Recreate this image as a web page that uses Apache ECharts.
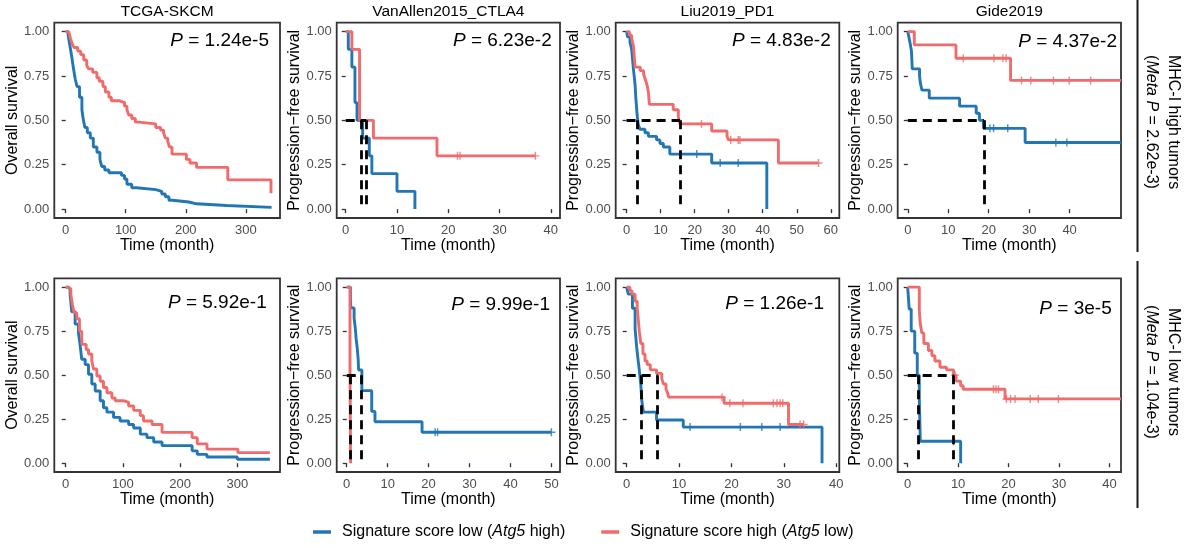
<!DOCTYPE html>
<html><head><meta charset="utf-8">
<script src="https://cdn.jsdelivr.net/npm/echarts@6/dist/echarts.min.js"></script>
<style>html,body{margin:0;padding:0;background:#fff}#c{width:1193px;height:548px}</style>
</head><body><div id="c"></div>
<script>
// ---------------- DATA ----------------
const panelTitles = ['TCGA-SKCM', 'VanAllen2015_CTLA4', 'Liu2019_PD1', 'Gide2019'];
const pValues = ['1.24e-5', '6.23e-2', '4.83e-2', '4.37e-2', '5.92e-1', '9.99e-1', '1.26e-1', '3e-5'];
const yNames = ['Overall survival', 'Progression\u2212free survival', 'Progression\u2212free survival', 'Progression\u2212free survival'];
const stripNames = ['MHC-I high tumors', 'MHC-I low tumors'];
const metaP = ['2.62e-3', '1.04e-3'];
const yTickValues = [0, 0.25, 0.5, 0.75, 1];
const yTickLabels = ['0.00', '0.25', '0.50', '0.75', '1.00'];
const xTicks_1 = [0, 100, 200, 300];
const xTicks_2 = [0, 10, 20, 30, 40];
const xTicks_3 = [0, 10, 20, 30, 40, 50, 60];
const xTicks_4 = [0, 10, 20, 30, 40];
const xTicks_5 = [0, 100, 200, 300];
const xTicks_6 = [0, 10, 20, 30, 40, 50];
const xTicks_7 = [0, 10, 20, 30, 40];
const xTicks_8 = [0, 10, 20, 30, 40];

// Panel 1: TCGA-SKCM, MHC-I high
const lowT_1 = [0, 4, 7, 10, 13, 16, 19, 23, 27, 29, 32, 36, 41, 46, 52, 57, 60, 65, 72, 93, 98, 102, 110, 118, 150, 160, 166, 172, 178, 205, 218, 268, 343];
const lowS_1 = [1, 0.98, 0.92, 0.86, 0.79, 0.73, 0.69, 0.63, 0.56, 0.51, 0.46, 0.43, 0.40, 0.35, 0.32, 0.28, 0.24, 0.22, 0.205, 0.19, 0.17, 0.14, 0.12, 0.11, 0.10, 0.085, 0.07, 0.05, 0.04, 0.03, 0.02, 0.01, 0.01];
const highT_1 = [0, 5, 8, 11, 14, 20, 25, 30, 35, 38, 45, 52, 56, 62, 66, 72, 76, 90, 98, 102, 105, 110, 116, 122, 150, 158, 163, 166, 170, 173, 177, 201, 207, 218, 270, 342];
const highS_1 = [1, 0.99, 0.96, 0.93, 0.91, 0.89, 0.87, 0.84, 0.81, 0.79, 0.77, 0.74, 0.72, 0.69, 0.66, 0.63, 0.61, 0.60, 0.58, 0.56, 0.53, 0.51, 0.49, 0.48, 0.46, 0.445, 0.43, 0.40, 0.38, 0.35, 0.31, 0.28, 0.26, 0.235, 0.165, 0.09];
const lowCens_1 = [];
const highCens_1 = [];
const medians_1 = [];

// Panel 2: VanAllen2015_CTLA4, MHC-I high
const lowT_2 = [0, 0.5, 1.2, 1.8, 2.2, 3.3, 4.6, 5.1, 10, 13.5];
const lowS_2 = [1, 0.9, 0.8, 0.6, 0.5, 0.4, 0.3, 0.2, 0.1, 0];
const highT_2 = [0, 1.2, 2.7, 5.4, 17.8, 37];
const highS_2 = [1, 0.9, 0.5, 0.4, 0.3, 0.3];
const lowCens_2 = [];
const highCens_2 = [21.8, 22.3, 37];
const medians_2 = [3.0, 4.0];

// Panel 3: Liu2019_PD1, MHC-I high
const lowT_3 = [0, 0.3, 1, 1.5, 2, 2.5, 2.7, 3.1, 3.4, 3.9, 5.4, 6.4, 8.8, 9.8, 10.8, 12.7, 25, 41.2];
const lowS_3 = [1, 0.97, 0.94, 0.90, 0.79, 0.70, 0.63, 0.53, 0.48, 0.45, 0.43, 0.41, 0.39, 0.37, 0.35, 0.31, 0.26, 0];
const highT_3 = [0, 0.8, 1.5, 2, 2.5, 4, 5, 5.5, 6, 6.4, 6.7, 13.7, 15.2, 15.7, 25, 29.5, 30, 44.6, 56.4];
const highS_3 = [1, 0.98, 0.96, 0.92, 0.80, 0.78, 0.76, 0.73, 0.70, 0.66, 0.59, 0.56, 0.52, 0.48, 0.44, 0.41, 0.39, 0.26, 0.26];
const lowCens_3 = [20.6, 27.5, 32.8];
const highCens_3 = [22, 30.6, 32.8, 33.3, 56.4];
const medians_3 = [3.2, 15.7];

// Panel 4: Gide2019, MHC-I high
const lowT_4 = [0, 0.3, 0.6, 0.9, 1.1, 2.9, 3.1, 3.5, 5.3, 12.8, 16.9, 17.7, 18.7, 29, 52.7];
const lowS_4 = [1, 0.966, 0.93, 0.89, 0.79, 0.75, 0.71, 0.67, 0.625, 0.58, 0.54, 0.50, 0.455, 0.375, 0.375];
const highT_4 = [0, 1.6, 11.9, 25.4, 52.7];
const highS_4 = [1, 0.925, 0.85, 0.725, 0.725];
const lowCens_4 = [20.3, 21.2, 24.7, 36.6, 39.3];
const highCens_4 = [13.7, 21.3, 23.5, 24.3, 28.1, 30.4, 36, 39.9, 45.2];
const medians_4 = [18.8];

// Panel 5: TCGA-SKCM, MHC-I low
const lowT_5 = [0, 4, 7.6, 10.5, 16.4, 22.2, 25, 28, 34, 39.8, 45.6, 51.5, 60.2, 66, 72, 83.6, 95, 110, 118.7, 130.4, 142, 153.8, 168.4, 221, 230, 247, 300, 357];
const lowS_5 = [1, 0.99, 0.96, 0.86, 0.79, 0.74, 0.675, 0.59, 0.56, 0.505, 0.45, 0.41, 0.355, 0.315, 0.29, 0.26, 0.24, 0.22, 0.20, 0.165, 0.145, 0.12, 0.10, 0.07, 0.05, 0.035, 0.022, 0.022];
const highT_5 = [0, 4.7, 8.8, 11.7, 14.6, 19.3, 24, 28, 35.7, 39.8, 45.6, 48.5, 54.4, 60.2, 66, 72, 80.7, 86.5, 101, 110, 118.7, 130.4, 136, 151, 168.4, 221, 230, 247, 301, 357];
const highS_5 = [1, 0.99, 0.96, 0.90, 0.855, 0.82, 0.75, 0.675, 0.645, 0.62, 0.58, 0.535, 0.495, 0.465, 0.43, 0.40, 0.37, 0.355, 0.345, 0.325, 0.30, 0.27, 0.24, 0.22, 0.175, 0.145, 0.11, 0.08, 0.06, 0.06];
const lowCens_5 = [];
const highCens_5 = [];
const medians_5 = [];

// Panel 6: VanAllen2015_CTLA4, MHC-I low
const lowT_6 = [0, 0.9, 1.0, 1.8, 2.1, 2.3, 2.6, 2.8, 2.9, 3.7, 6.1, 6.9, 18.4, 50];
const lowS_6 = [1, 0.941, 0.882, 0.824, 0.765, 0.706, 0.647, 0.588, 0.529, 0.412, 0.294, 0.235, 0.176, 0.176];
const highT_6 = [0, 0.8, 0.95];
const highS_6 = [1, 0.5, 0];
const lowCens_6 = [21.6, 22.2, 50];
const highCens_6 = [];
const medians_6 = [0.8, 3.5];

// Panel 7: Liu2019_PD1, MHC-I low
const lowT_7 = [0, 0.3, 1.1, 1.6, 1.9, 2.2, 2.4, 2.7, 2.9, 3.2, 5.7, 10.8, 37.3];
const lowS_7 = [1, 0.96, 0.88, 0.765, 0.66, 0.58, 0.53, 0.445, 0.35, 0.29, 0.245, 0.205, 0];
const highT_7 = [0, 0.6, 1.0, 1.6, 2.0, 2.2, 2.4, 2.7, 3.1, 3.5, 3.9, 4.5, 5.7, 6.7, 7.0, 7.5, 7.8, 8.0, 18.6, 30.9, 33.8];
const highS_7 = [1, 0.98, 0.96, 0.92, 0.88, 0.82, 0.75, 0.68, 0.62, 0.58, 0.56, 0.53, 0.51, 0.48, 0.45, 0.42, 0.40, 0.375, 0.34, 0.22, 0.22];
const lowCens_7 = [12.1, 21.7, 25.8, 29.3];
const highCens_7 = [18.2, 19.7, 22.2, 28, 28.7, 29.3, 29.8, 33.1, 33.8];
const medians_7 = [2.7, 5.9];

// Panel 8: Gide2019, MHC-I low
const lowT_8 = [0, 0.3, 0.7, 1.4, 1.9, 2.3, 2.4, 2.5, 10.5];
const lowS_8 = [1, 0.875, 0.75, 0.625, 0.5, 0.375, 0.25, 0.125, 0];
const highT_8 = [0, 2.3, 2.5, 2.8, 3.2, 4.1, 4.8, 5.4, 6.4, 7.7, 9.1, 9.6, 10.5, 11, 19.3, 42.3];
const highS_8 = [1, 0.87, 0.79, 0.74, 0.68, 0.64, 0.61, 0.58, 0.545, 0.53, 0.50, 0.466, 0.44, 0.42, 0.365, 0.365];
const lowCens_8 = [9.1];
const highCens_8 = [9.4, 17, 17.5, 18, 19.6, 20.4, 21.3, 24.3, 25.9, 29.9];
const medians_8 = [2.1, 9.1];

// ---------------- LAYOUT / STYLE ----------------
const LOW = 'Signature score low (Atg5 high)';
const HIGH = 'Signature score high (Atg5 low)';
const BLUE = '#2276B4';
const RED = '#F06B6B';
const FONT = '"Liberation Sans", Arial, Helvetica, sans-serif';

const colLeft = [54.3, 336.7, 615.7, 897.7];
const colWidth = [225.7, 223.3, 223.6, 223.3];
const rowTop = [22.7, 278.3];
const rowHeight = [195.3, 193.7];
const xRange = [[-19, 357], [-1.76, 41.8], [-3.2, 62.5], [-2.5, 52.7], [-20, 374.7], [-2.45, 52.1], [-2.1, 40.6], [-1.98, 42.3]];
const yNameGap = [30, 33, 32, 34];
const pPos = [[269, 41], [551.7, 40.5], [830.7, 40.5], [1117, 41.5], [266.7, 303], [550, 305], [824, 303.3], [1111.7, 309]];

const panels = [
  {lowT: lowT_1, lowS: lowS_1, highT: highT_1, highS: highS_1, lowC: lowCens_1, highC: highCens_1, med: medians_1, ticks: xTicks_1},
  {lowT: lowT_2, lowS: lowS_2, highT: highT_2, highS: highS_2, lowC: lowCens_2, highC: highCens_2, med: medians_2, ticks: xTicks_2},
  {lowT: lowT_3, lowS: lowS_3, highT: highT_3, highS: highS_3, lowC: lowCens_3, highC: highCens_3, med: medians_3, ticks: xTicks_3},
  {lowT: lowT_4, lowS: lowS_4, highT: highT_4, highS: highS_4, lowC: lowCens_4, highC: highCens_4, med: medians_4, ticks: xTicks_4},
  {lowT: lowT_5, lowS: lowS_5, highT: highT_5, highS: highS_5, lowC: lowCens_5, highC: highCens_5, med: medians_5, ticks: xTicks_5},
  {lowT: lowT_6, lowS: lowS_6, highT: highT_6, highS: highS_6, lowC: lowCens_6, highC: highCens_6, med: medians_6, ticks: xTicks_6},
  {lowT: lowT_7, lowS: lowS_7, highT: highT_7, highS: highS_7, lowC: lowCens_7, highC: highCens_7, med: medians_7, ticks: xTicks_7},
  {lowT: lowT_8, lowS: lowS_8, highT: highT_8, highS: highS_8, lowC: lowCens_8, highC: highCens_8, med: medians_8, ticks: xTicks_8}
];

function pairs(t, s) { return t.map((v, k) => [v, s[k]]); }
function stepAt(t, s, x) { let v = s[0]; for (let k = 0; k < t.length; k++) { if (t[k] <= x) v = s[k]; } return v; }
const PLUS = 'path://M4.1,0H5.9V10H4.1Z M0,4.1H10V5.9H0Z';

const grid = [], xAxis = [], yAxis = [], series = [], graphic = [];

panels.forEach((p, i) => {
  const r = Math.floor(i / 4), c = i % 4;
  grid.push({left: colLeft[c], top: rowTop[r], width: colWidth[c], height: rowHeight[r], show: true,
    borderColor: '#333', borderWidth: 1.8, backgroundColor: 'transparent', containLabel: false});
  xAxis.push({type: 'value', gridIndex: i, min: xRange[i][0], max: xRange[i][1],
    axisLine: {show: false}, splitLine: {show: false},
    axisTick: {show: true, length: 4, lineStyle: {color: '#333', width: 1.3}, customValues: p.ticks},
    axisLabel: {customValues: p.ticks, color: '#4d4d4d', fontSize: 13, fontFamily: FONT, margin: 6},
    name: 'Time (month)', nameLocation: 'middle', nameGap: 17,
    nameTextStyle: {color: '#000', fontSize: 16, fontFamily: FONT}});
  yAxis.push({type: 'value', gridIndex: i, min: -0.05, max: 1.05,
    axisLine: {show: false}, splitLine: {show: false},
    axisTick: {show: true, length: 4, lineStyle: {color: '#333', width: 1.3}, customValues: yTickValues},
    axisLabel: {customValues: yTickValues, color: '#4d4d4d', fontSize: 13, fontFamily: FONT, margin: 5,
      formatter: v => yTickLabels[yTickValues.indexOf(v)] || v.toFixed(2)},
    name: yNames[c], nameLocation: 'middle', nameGap: yNameGap[c], nameRotate: 90,
    nameTextStyle: {color: '#000', fontSize: 16, fontFamily: FONT}});

  series.push({type: 'line', name: LOW, xAxisIndex: i, yAxisIndex: i, step: 'end', showSymbol: false, symbol: 'none',
    data: pairs(p.lowT, p.lowS), lineStyle: {color: BLUE, width: 2.9}, itemStyle: {color: BLUE}, z: 2, silent: true});
  series.push({type: 'line', name: HIGH, xAxisIndex: i, yAxisIndex: i, step: 'end', showSymbol: false, symbol: 'none',
    data: pairs(p.highT, p.highS), lineStyle: {color: RED, width: 2.9}, itemStyle: {color: RED}, z: 3, silent: true});
  if (p.lowC.length) series.push({type: 'scatter', name: 'censor-low-' + i, xAxisIndex: i, yAxisIndex: i,
    symbol: PLUS, symbolSize: 8, itemStyle: {color: BLUE}, z: 4, silent: true,
    data: p.lowC.map(x => [x, stepAt(p.lowT, p.lowS, x)])});
  if (p.highC.length) series.push({type: 'scatter', name: 'censor-high-' + i, xAxisIndex: i, yAxisIndex: i,
    symbol: PLUS, symbolSize: 8, itemStyle: {color: RED}, z: 4, silent: true,
    data: p.highC.map(x => [x, stepAt(p.highT, p.highS, x)])});
  if (p.med.length) {
    const mMax = Math.max.apply(null, p.med);
    const segs = [{coords: [[0, 0.5], [mMax, 0.5]]}].concat(p.med.map(m => ({coords: [[m, 0.5], [m, 0]]})));
    series.push({type: 'lines', coordinateSystem: 'cartesian2d', xAxisIndex: i, yAxisIndex: i, z: 6, silent: true,
      symbol: 'none', lineStyle: {color: '#000', width: 2.8, type: [9, 6], opacity: 1}, data: segs});
  }

  graphic.push({type: 'text', x: pPos[i][0], y: pPos[i][1], z: 10, silent: true,
    style: {text: '{i|P}{n| = ' + pValues[i] + '}', align: 'right', verticalAlign: 'middle',
      fontSize: 19, fontFamily: FONT, fill: '#000',
      rich: {i: {fontStyle: 'italic', fontSize: 19, fontFamily: FONT, fill: '#000'},
             n: {fontSize: 19, fontFamily: FONT, fill: '#000'}}}});
});

panelTitles.forEach((t, c) => {
  graphic.push({type: 'text', x: colLeft[c] + colWidth[c] / 2, y: 11.5, silent: true,
    style: {text: t, align: 'center', verticalAlign: 'middle', fontSize: 15.5, fontFamily: FONT, fill: '#000'}});
});

// right-hand strips
[[0, 252], [261, 508]].forEach(([a, b]) => {
  graphic.push({type: 'line', silent: true, shape: {x1: 1137.5, y1: a, x2: 1137.5, y2: b},
    style: {stroke: '#1a1a1a', lineWidth: 2}});
});
[122, 372].forEach((cy, r) => {
  graphic.push({type: 'text', x: 1173, y: cy, rotation: -Math.PI / 2, silent: true,
    style: {text: stripNames[r], align: 'center', verticalAlign: 'middle', fontSize: 16, fontFamily: FONT, fill: '#000'}});
  graphic.push({type: 'text', x: 1151, y: cy, rotation: -Math.PI / 2, silent: true,
    style: {text: '{n|(}{i|Meta P}{n| = ' + metaP[r] + ')}', align: 'center', verticalAlign: 'middle',
      fontSize: 16, fontFamily: FONT, fill: '#000',
      rich: {i: {fontStyle: 'italic', fontSize: 16, fontFamily: FONT, fill: '#000'},
             n: {fontSize: 16, fontFamily: FONT, fill: '#000'}}}});
});

const chart = echarts.init(document.getElementById('c'), null, {renderer: 'canvas'});
chart.setOption({
  animation: false,
  backgroundColor: '#fff',
  grid, xAxis, yAxis, series, graphic,
  legend: {
    data: [LOW, HIGH], left: 313, top: 522, padding: 0, icon: 'rect', itemWidth: 18, itemHeight: 3.5, itemGap: 36,
    selectedMode: false,
    textStyle: {fontSize: 16, fontFamily: FONT, color: '#000', lineHeight: 20,
      rich: {f: {fontSize: 16, fontFamily: FONT, color: '#000', padding: [0, 0, 0, 6]},
             a: {fontSize: 16, fontFamily: FONT, color: '#000'},
             i: {fontSize: 16, fontFamily: FONT, color: '#000', fontStyle: 'italic'}}},
    formatter: name => name === LOW ? '{f|Signature score low (}{i|Atg5}{a| high)}' : '{f|Signature score high (}{i|Atg5}{a| low)}'
  }
});
</script></body></html>
